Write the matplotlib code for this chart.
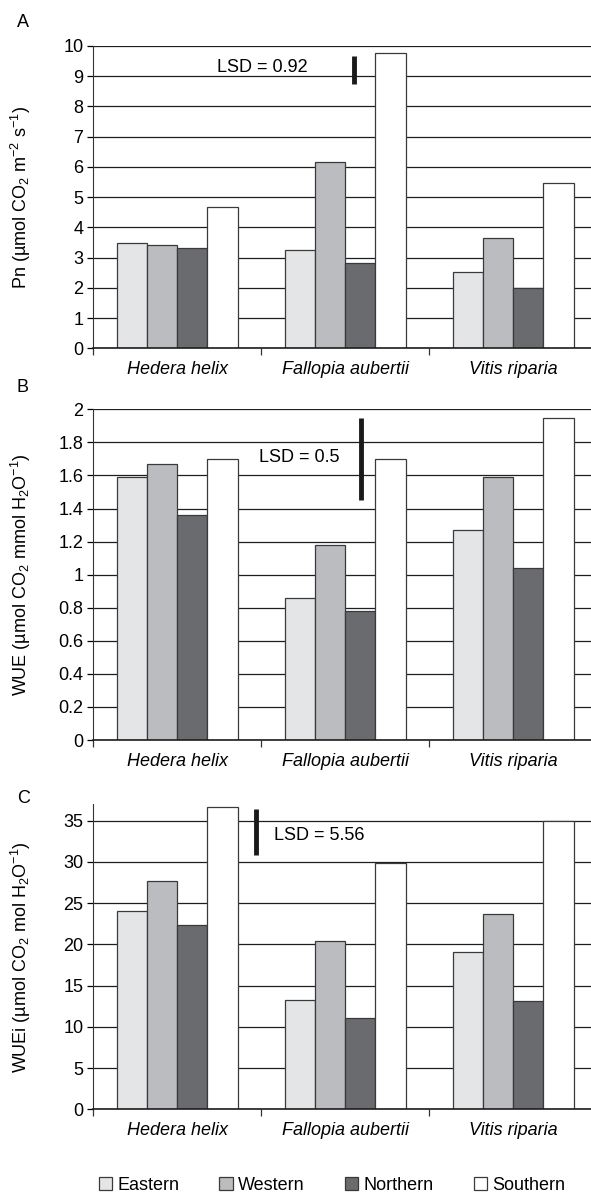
import matplotlib
matplotlib.use("Agg")
import matplotlib.pyplot as plt
import numpy as np

plt.rcParams['font.family'] = ['Liberation Sans', 'DejaVu Sans']
plt.rcParams['mathtext.default'] = 'regular'
plt.rcParams['font.size'] = 13

species = ["Hedera helix", "Fallopia aubertii", "Vitis riparia"]
sites = ["Eastern", "Western", "Northern", "Southern"]
site_colors = ["#e4e5e7", "#bbbcc0", "#6a6b6f", "#ffffff"]

# values per site, order: Hedera, Fallopia, Vitis
pn = {
    "Eastern": [3.47, 3.24, 2.51],
    "Western": [3.42, 6.17, 3.66],
    "Northern": [3.31, 2.81, 1.98],
    "Southern": [4.67, 9.78, 5.46],
}
wue = {
    "Eastern": [1.59, 0.86, 1.27],
    "Western": [1.67, 1.18, 1.59],
    "Northern": [1.36, 0.78, 1.04],
    "Southern": [1.70, 1.70, 1.95],
}
wuei = {
    "Eastern": [24.0, 13.3, 19.1],
    "Western": [27.7, 20.4, 23.7],
    "Northern": [22.4, 11.1, 13.1],
    "Southern": [36.6, 29.9, 34.9],
}

lsd_values = [0.92, 0.5, 5.56]

fig = plt.figure(figsize=(5.91, 11.94), dpi=100)

panels = [
    # letter, data, ylabel, ylim, yticks, tick labels, axes rect, lsd (x, ybottom), text pos, letter y
    ("A", pn, "Pn (µmol CO$_2$ m$^{-2}$ s$^{-1}$)", 10, np.arange(0, 11, 1),
     [str(v) for v in range(0, 11)], [0.1574, 0.7083, 0.8426, 0.2532],
     (1.055, 8.74), (0.506, 9.3, "center"), 1.076),
    ("B", wue, "WUE (µmol CO$_2$ mmol H$_2$O$^{-1}$)", 2, np.arange(0, 2.01, 0.2),
     ["0", "0.2", "0.4", "0.6", "0.8", "1", "1.2", "1.4", "1.6", "1.8", "2"],
     [0.1574, 0.3802, 0.8426, 0.2770],
     (1.095, 1.45), (0.73, 1.71, "center"), 1.066),
    ("C", wuei, "WUEi (µmol CO$_2$ mol H$_2$O$^{-1}$)", 37, np.arange(0, 36, 5),
     [str(v) for v in range(0, 36, 5)], [0.1574, 0.0709, 0.8426, 0.2556],
     (0.468, 30.8), (0.58, 33.2, "left"), 1.02),
]

x = np.arange(len(species))
w = 0.18

for (letter, data, ylabel, ytop, yticks, ylabs, rect, lsd_pos, txt, ly), lsd in zip(panels, lsd_values):
    ax = fig.add_axes(rect)
    for i, s in enumerate(sites):
        ax.bar(x + (i - 1.5) * w, data[s], w, color=site_colors[i],
               edgecolor="#3a3a3a", linewidth=0.9, label=s, zorder=3)
    ax.set_xlim(-0.5, 2.464)
    ax.set_ylim(0, ytop)
    ax.set_yticks(yticks)
    ax.set_yticklabels(ylabs)
    ax.yaxis.grid(True, color="#1e1e1e", linewidth=0.9)
    ax.set_axisbelow(True)
    ax.set_xticks(x)
    ax.set_xticklabels(species, fontstyle="italic")
    ax.set_xticks([-0.5, 0.5, 1.5], minor=True)
    ax.tick_params(axis="x", which="major", length=0, pad=9)
    ax.tick_params(axis="x", which="minor", length=5, width=0.9, color="#333333")
    ax.tick_params(axis="y", length=4, width=0.9, pad=3)
    for side in ["top", "right"]:
        ax.spines[side].set_visible(False)
    ax.spines["left"].set_color("#333333")
    ax.spines["bottom"].set_color("#1e1e1e")
    ax.spines["bottom"].set_linewidth(1.2)
    ax.spines["bottom"].set_zorder(4)
    ax.set_ylabel(ylabel)
    ax.yaxis.set_label_coords(-0.12, 0.5)
    # LSD bar and label
    ax.plot([lsd_pos[0], lsd_pos[0]], [lsd_pos[1], lsd_pos[1] + lsd],
            color="#1a1a1a", linewidth=3.5, solid_capstyle="butt", zorder=4)
    ax.text(txt[0], txt[1], f"LSD = {lsd}", ha=txt[2], va="center", zorder=5)
    ax.text(-0.153, ly, letter, transform=ax.transAxes, ha="left", va="center")

handles = [plt.Rectangle((0, 0), 1, 1, facecolor=c, edgecolor="#3a3a3a", linewidth=0.9)
           for c in site_colors]
fig.legend(handles, sites, loc="center", bbox_to_anchor=(0.562, 0.0075), ncol=4,
           frameon=False, handlelength=0.75, handleheight=0.75, handletextpad=0.3,
           columnspacing=2.2, borderaxespad=0)

fig.savefig("out.png", dpi=100)
